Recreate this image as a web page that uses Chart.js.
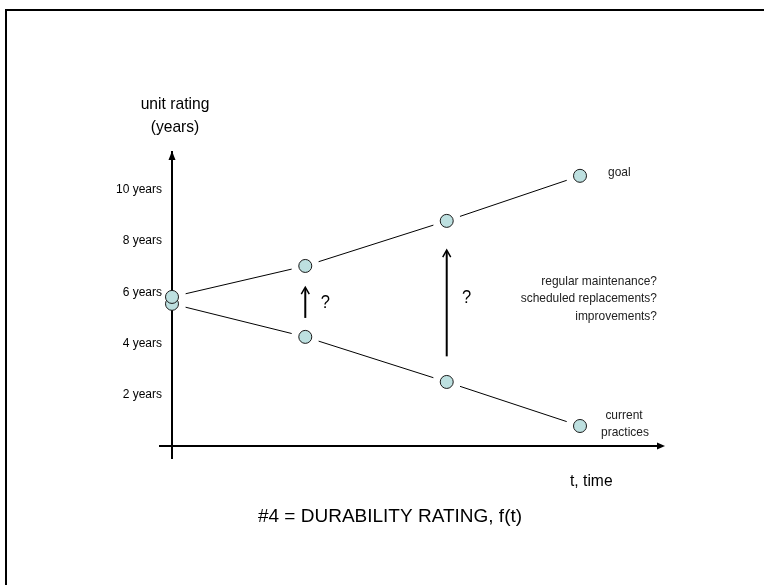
<!DOCTYPE html>
<html>
<head>
<meta charset="utf-8">
<script src="https://cdn.jsdelivr.net/npm/chart.js@4.4.1/dist/chart.umd.min.js"></script>
<style>
  html, body { margin: 0; padding: 0; background: #fff; }
  canvas { display: block; }
</style>
</head>
<body>
<canvas id="chart" width="764" height="585"></canvas>
<script>
// values (t in steps, rating in years)
const TIME = [0, 0.98, 2.02, 3];
const GOAL_YEARS = [5.82, 7.03, 8.79, 10.55];
const CURRENT_YEARS = [5.55, 4.26, 2.5, 0.78];
const Y_TICKS = [2, 4, 6, 8, 10];
// the two "?" arrows between the series
const ARROW_TIME = [0.98, 2.02];
const ARROW_FROM = [5.0, 3.5];
const ARROW_TO = [6.2, 7.65];

const FONT = '"Liberation Sans", Arial, sans-serif';
const GAP = 14; // line stops short of each marker
const MARKER_FILL = '#bde0e0';

function toPoints(ys) {
    return TIME.map((t, i) => ({ x: t, y: ys[i] }));
}

// dash pattern that leaves a gap at both ends of every segment
function gapDash(ctx) {
    const len = Math.hypot(ctx.p1.x - ctx.p0.x, ctx.p1.y - ctx.p0.y);
    return [0, GAP, Math.max(len - 2 * GAP, 0), GAP + 20];
}

// text, optionally a bit condensed like the original
function text(ctx, str, x, y, size, align, sx) {
    ctx.save();
    ctx.font = size + 'px ' + FONT;
    ctx.textAlign = align || 'center';
    ctx.textBaseline = 'middle';
    ctx.translate(x, y);
    ctx.scale(sx || 0.92, 1);
    ctx.fillText(str, 0, 0);
    ctx.restore();
}

const sketchPlugin = {
    id: 'sketch',
    beforeDraw(chart) {
        const ctx = chart.ctx;
        ctx.save();
        ctx.fillStyle = '#fff';
        ctx.fillRect(0, 0, chart.width, chart.height);
        // frame, cut off at right and bottom
        ctx.strokeStyle = '#000';
        ctx.lineWidth = 2;
        ctx.strokeRect(6, 10, chart.width + 20, chart.height + 20);
        ctx.restore();
    },
    beforeDatasetsDraw(chart) {
        const { ctx, chartArea } = chart;
        const xs = chart.scales.x, ys = chart.scales.y;
        const y0 = ys.getPixelForValue(0);
        const x0 = xs.getPixelForValue(0);
        ctx.save();
        ctx.strokeStyle = '#000';
        ctx.fillStyle = '#000';
        ctx.lineWidth = 2;
        // horizontal axis, a bit past the vertical one
        ctx.beginPath();
        ctx.moveTo(x0 - 13, y0);
        ctx.lineTo(chartArea.right - 6, y0);
        ctx.stroke();
        // arrow heads
        ctx.beginPath();
        ctx.moveTo(chartArea.right, y0);
        ctx.lineTo(chartArea.right - 8, y0 - 3.5);
        ctx.lineTo(chartArea.right - 8, y0 + 3.5);
        ctx.closePath();
        ctx.fill();
        ctx.beginPath();
        ctx.moveTo(x0, chartArea.top - 1);
        ctx.lineTo(x0 - 3.5, chartArea.top + 8);
        ctx.lineTo(x0 + 3.5, chartArea.top + 8);
        ctx.closePath();
        ctx.fill();
        ctx.restore();
    },
    afterDraw(chart) {
        const ctx = chart.ctx;
        const xs = chart.scales.x, ys = chart.scales.y;
        ctx.save();
        ctx.strokeStyle = '#000';
        ctx.fillStyle = '#000';
        ARROW_TIME.forEach((t, i) => {
            const x = xs.getPixelForValue(t);
            const yA = ys.getPixelForValue(ARROW_FROM[i]);
            const yB = ys.getPixelForValue(ARROW_TO[i]);
            ctx.lineWidth = 2;
            ctx.beginPath();
            ctx.moveTo(x, yA);
            ctx.lineTo(x, yB + 1);
            ctx.stroke();
            ctx.lineWidth = 1.5;
            ctx.beginPath();
            ctx.moveTo(x - 4, yB + 7);
            ctx.lineTo(x, yB);
            ctx.lineTo(x + 4, yB + 7);
            ctx.stroke();
            text(ctx, '?', x + 20, (yA + yB) / 2 + (i === 0 ? 0 : -5), 18, 'center');
        });

        ctx.fillStyle = '#000';
        text(ctx, 'unit rating', 175, 104, 17);
        text(ctx, '(years)', 175, 127, 17);
        text(ctx, 't, time', 570, 481, 17, 'left');
        text(ctx, '#4 = DURABILITY RATING, f(t)', 390, 517, 19, 'center', 1);

        ctx.fillStyle = '#222';
        text(ctx, 'goal', 608, 172, 13, 'left');
        text(ctx, 'current', 624, 415, 13);
        text(ctx, 'practices', 625, 432, 13);
        text(ctx, 'regular maintenance?', 657, 281, 13, 'right');
        text(ctx, 'scheduled replacements?', 657, 298, 13, 'right');
        text(ctx, 'improvements?', 657, 316, 13, 'right');
        ctx.restore();
    }
};

const lineStyle = {
    showLine: true,
    pointRadius: 0,
    borderColor: '#000',
    borderWidth: 1,
    clip: false,
    segment: { borderDash: gapDash },
    order: 2,
};
const markerStyle = {
    showLine: false,
    pointRadius: 6.5,
    pointHoverRadius: 6.5,
    pointBorderWidth: 1,
    pointBackgroundColor: MARKER_FILL,
    pointBorderColor: '#1a1a1a',
    clip: false,
};

new Chart(document.getElementById('chart'), {
    type: 'line',
    data: {
        datasets: [
            { label: 'goal markers', data: toPoints(GOAL_YEARS), ...markerStyle, order: 0 },
            { label: 'current markers', data: toPoints(CURRENT_YEARS), ...markerStyle, order: 1 },
            { label: 'goal', data: toPoints(GOAL_YEARS), ...lineStyle },
            { label: 'current practices', data: toPoints(CURRENT_YEARS), ...lineStyle },
        ],
    },
    options: {
        responsive: false,
        devicePixelRatio: 1,
        animation: false,
        events: [],
        layout: { padding: { left: 0, top: 152, right: 99, bottom: 127 } },
        scales: {
            x: {
                type: 'linear',
                min: 0,
                max: 3.625,
                display: false,
            },
            y: {
                type: 'linear',
                min: -0.47,
                max: 11.48,
                afterFit: (scale) => { scale.width = 172; },
                grid: { display: false, drawTicks: false },
                border: { display: true, color: '#000', width: 2 },
                ticks: {
                    stepSize: 2,
                    includeBounds: false,
                    autoSkip: false,
                    padding: 10,
                    color: '#000',
                    font: { family: FONT, size: 12 },
                    callback: (v) => Y_TICKS.includes(v) ? v + ' years' : '',
                },
            },
        },
        plugins: {
            legend: { display: false },
            tooltip: { enabled: false },
        },
    },
    plugins: [sketchPlugin],
});
</script>
</body>
</html>
